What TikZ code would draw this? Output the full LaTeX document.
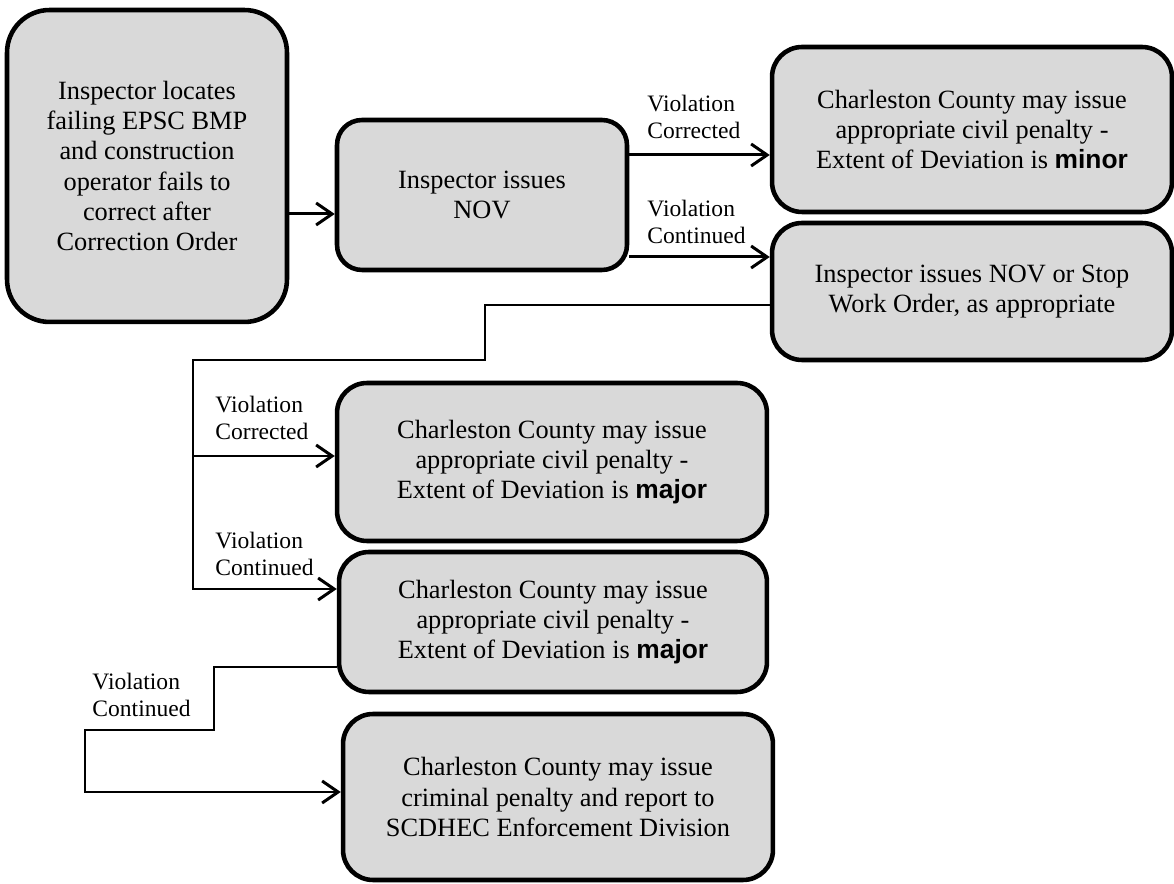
\documentclass[tikz,border=0pt]{standalone}
\usepackage{fontspec}
\setmainfont{Liberation Serif}
\newfontfamily\arialbf{Liberation Sans}
\usetikzlibrary{arrows.meta}

\tikzset{
  stepbox/.style={draw,line width=2.6pt,fill=black!15,rounded corners=0.6cm,
    align=center,inner sep=2pt,font=\fontsize{15}{17.1}\selectfont},
  lbl/.style={anchor=west,align=left,inner sep=0pt,font=\fontsize{13.4}{15.4}\selectfont},
}
\newcommand{\hiword}[1]{{\arialbf\bfseries #1}}

\begin{document}
\begin{tikzpicture}[x=0.02cm,y=-0.02cm,>={Straight Barb[length=3.2mm,width=4.4mm]},line width=1.7pt]
  \useasboundingbox (0,0) rectangle (1174,884);

  % boxes
  \node[stepbox,rounded corners=0.85cm,minimum width=5.6cm,minimum height=6.24cm] (start) at (147,166)
    {Inspector locates\\failing EPSC BMP\\and construction\\operator fails to\\correct after\\Correction Order};
  \node[stepbox,rounded corners=0.5cm,minimum width=5.8cm,minimum height=3cm] (nov) at (482,195)
    {Inspector issues\\NOV};
  \node[stepbox,minimum width=8cm,minimum height=3.3cm] (minor) at (972,129.5)
    {Charleston County may issue\\appropriate civil penalty -\\Extent of Deviation is \hiword{minor}};
  \node[stepbox,minimum width=8cm,minimum height=2.74cm] (stop) at (972,291.5)
    {Inspector issues NOV or Stop\\Work Order, as appropriate};
  \node[stepbox,minimum width=8.6cm,minimum height=3.16cm] (majorA) at (552,462)
    {Charleston County may issue\\appropriate civil penalty -\\Extent of Deviation is \hiword{major}};
  \node[stepbox,minimum width=8.56cm,minimum height=2.8cm] (majorB) at (553,622)
    {Charleston County may issue\\appropriate civil penalty -\\Extent of Deviation is \hiword{major}};
  \node[stepbox,minimum width=8.6cm,minimum height=3.32cm] (crim) at (558,797)
    {Charleston County may issue\\criminal penalty and report to\\SCDHEC Enforcement Division};

  % connectors
  \draw[->] (start.east |- 0,214) -- (nov.west |- 0,214);
  \draw[->] (nov.east |- 0,155) -- (minor.west |- 0,155);
  \draw[->] (nov.east |- 0,257) -- (stop.west |- 0,257);

  \coordinate (fork) at (193,456);
  \draw (stop.west |- 0,305) -| (485,360) -| (fork);
  \draw[->] (fork) -- (majorA.west |- fork);
  \draw[->] (fork) |- (majorB.west |- 0,589);

  \draw[->] (majorB.west |- 0,667) -| (214,730) -| (85,792) -- (crim.west |- 0,792);

  % labels
  \node[lbl] (lc1) at (646,116.5) {Violation\\Corrected};
  \node[lbl] (ln1) at (646,221.5) {Violation\\Continued};
  \node[lbl] (lc2) at (214,418) {Violation\\Corrected};
  \node[lbl] (ln2) at (214,554) {Violation\\Continued};
  \node[lbl] (ln3) at (91,695) {Violation\\Continued};
\end{tikzpicture}
\end{document}
